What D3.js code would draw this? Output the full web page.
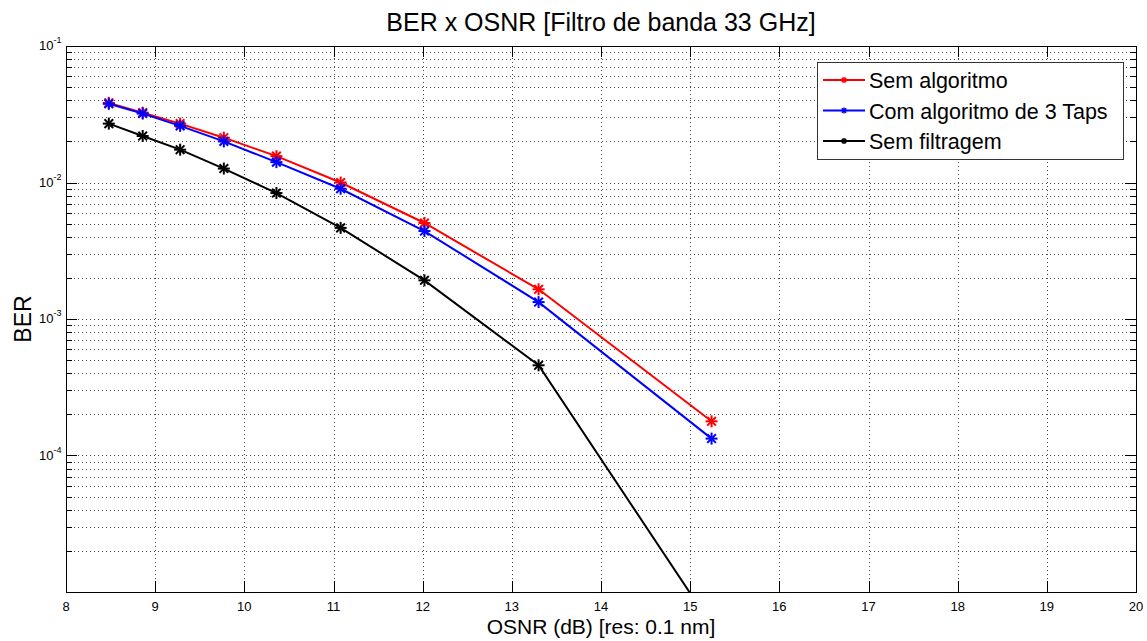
<!DOCTYPE html>
<html>
<head>
<meta charset="utf-8">
<script src="https://cdn.jsdelivr.net/npm/d3@7"></script>
<style>
  body { margin: 0; background: #fff; }
  text { font-family: "Liberation Sans", Arial, sans-serif; fill: #000; }
</style>
</head>
<body>
<svg id="chart"></svg>
<script>
// Chart data
const osnr = [8.48, 8.86, 9.28, 9.77, 10.36, 11.08, 12.02, 13.3, 15.24];
const semAlgoritmo = [0.0383, 0.0325, 0.0270, 0.0213, 0.0156, 0.0100, 0.00505, 0.00165, 0.000178];
const comAlgoritmo = [0.0377, 0.0320, 0.0260, 0.0200, 0.0141, 0.0090, 0.00441, 0.00133, 0.000133];
const semFiltragem = [0.0270, 0.0219, 0.0174, 0.01265, 0.00837, 0.00465, 0.00192, 0.000458, 0.0000057];
const seriesNames = ["Sem algoritmo", "Com algoritmo de 3 Taps", "Sem filtragem"];
const seriesColors = ["#ff0000", "#0000ff", "#000000"];
const xTicks = [8, 9, 10, 11, 12, 13, 14, 15, 16, 17, 18, 19, 20];
const yDecades = [-5, -4, -3, -2, -1];
const yLabelDecades = [-4, -3, -2, -1]; // the reference shows no label at 10^-5

const width = 1147, height = 641;
const margin = {left: 66, right: 11, top: 46, bottom: 49};
const svg = d3.select("#chart").attr("width", width).attr("height", height);

const x = d3.scaleLinear().domain([8, 20]).range([margin.left, width - margin.right]);
const y = d3.scaleLog().domain([1e-5, 1e-1]).range([height - margin.bottom, margin.top]);

const x0 = x.range()[0], x1 = x.range()[1], y0 = y.range()[0], y1 = y.range()[1];

// minor y values (2..9 of each decade)
const yMinor = [];
yDecades.slice(0, -1).forEach(d => {
  for (let k = 2; k <= 9; k++) yMinor.push(k * Math.pow(10, d));
});
const yMajor = yDecades.map(d => Math.pow(10, d));

const grid = svg.append("g").attr("stroke", "#444").attr("stroke-width", 1)
  .attr("stroke-dasharray", "1,3").attr("shape-rendering", "crispEdges");

grid.selectAll(".gx").data(xTicks.slice(1, -1)).enter().append("line")
  .attr("x1", d => Math.round(x(d)) + 0.5).attr("x2", d => Math.round(x(d)) + 0.5)
  .attr("y1", y1).attr("y2", y0);

grid.selectAll(".gy").data(yMinor.concat(yMajor.slice(1, -1))).enter().append("line")
  .attr("x1", x0).attr("x2", x1)
  .attr("y1", d => Math.round(y(d)) + 0.5).attr("y2", d => Math.round(y(d)) + 0.5);

// ticks
const ticks = svg.append("g").attr("stroke", "#000").attr("stroke-width", 1).attr("shape-rendering", "crispEdges");
xTicks.forEach(t => {
  const px = Math.round(x(t)) + 0.5;
  ticks.append("line").attr("x1", px).attr("x2", px).attr("y1", y0).attr("y2", y0 - 11);
  ticks.append("line").attr("x1", px).attr("x2", px).attr("y1", y1).attr("y2", y1 + 11);
});
yMinor.concat(yMajor).forEach(v => {
  const py = Math.round(y(v)) + 0.5;
  const len = yMajor.includes(v) ? 11 : 6;
  ticks.append("line").attr("x1", x0).attr("x2", x0 + len).attr("y1", py).attr("y2", py);
  ticks.append("line").attr("x1", x1).attr("x2", x1 - len).attr("y1", py).attr("y2", py);
});

// axes box
svg.append("rect").attr("x", x0 + 0.5).attr("y", y1 + 0.5)
  .attr("width", x1 - x0).attr("height", y0 - y1)
  .attr("fill", "none").attr("stroke", "#000").attr("shape-rendering", "crispEdges");

// tick labels
svg.append("g").selectAll("text").data(xTicks).enter().append("text")
  .attr("x", d => x(d)).attr("y", y0 + 19)
  .attr("text-anchor", "middle").attr("font-size", 13).text(d => d);

const yl = svg.append("g").selectAll("text").data(yLabelDecades).enter().append("text")
  .attr("x", x0 - 27).attr("y", d => y(Math.pow(10, d)) + 4)
  .attr("font-size", 13);
yl.append("tspan").text("10");
yl.append("tspan").attr("dy", -7).attr("font-size", 9).text(d => d);

// title and axis labels
svg.append("text").attr("x", (x0 + x1) / 2).attr("y", 31).attr("text-anchor", "middle")
  .attr("font-size", 25).text("BER x OSNR [Filtro de banda 33 GHz]");
svg.append("text").attr("x", (x0 + x1) / 2).attr("y", 634).attr("text-anchor", "middle")
  .attr("font-size", 21).text("OSNR (dB) [res: 0.1 nm]");
svg.append("text").attr("transform", `translate(31,${(y0 + y1) / 2}) rotate(-90)`)
  .attr("text-anchor", "middle").attr("font-size", 23).text("BER");

// clip
svg.append("clipPath").attr("id", "plotclip").append("rect")
  .attr("x", x0).attr("y", y1).attr("width", x1 - x0).attr("height", y0 - y1);

const allSeries = [semAlgoritmo, comAlgoritmo, semFiltragem];
const line = d3.line().x(d => x(d[0])).y(d => y(d[1]));

function star(g, cx, cy, r, color, w) {
  const a = r * 0.72;
  const segs = [[0, -r, 0, r], [-r, 0, r, 0], [-a, -a, a, a], [-a, a, a, -a]];
  segs.forEach(s => g.append("line")
    .attr("x1", cx + s[0]).attr("y1", cy + s[1]).attr("x2", cx + s[2]).attr("y2", cy + s[3])
    .attr("stroke", color).attr("stroke-width", w));
}

const plot = svg.append("g").attr("clip-path", "url(#plotclip)");
allSeries.forEach((vals, i) => {
  const pts = osnr.map((xv, j) => [xv, vals[j]]);
  plot.append("path").datum(pts).attr("d", line)
    .attr("fill", "none").attr("stroke", seriesColors[i]).attr("stroke-width", 2);
  const mg = plot.append("g");
  pts.forEach(p => star(mg, x(p[0]), y(p[1]), 6, seriesColors[i], 2));
});

// legend
const lg = svg.append("g").attr("transform", "translate(817,62)");
lg.append("rect").attr("x", 0.5).attr("y", 0.5).attr("width", 306).attr("height", 97)
  .attr("fill", "#fff").attr("stroke", "#333").attr("shape-rendering", "crispEdges");
seriesNames.forEach((name, i) => {
  const ly = 18 + i * 30.5;
  lg.append("line").attr("x1", 6).attr("x2", 48).attr("y1", ly).attr("y2", ly)
    .attr("stroke", seriesColors[i]).attr("stroke-width", 2);
  star(lg, 27, ly, 3, seriesColors[i], 1.5);
  lg.append("text").attr("x", 52).attr("y", ly + 8).attr("font-size", 21.5).text(name);
});
</script>
</body>
</html>
